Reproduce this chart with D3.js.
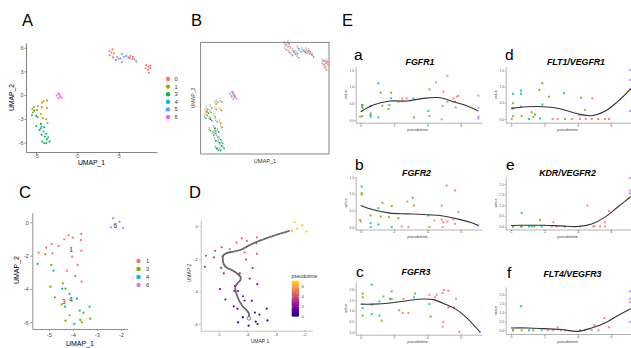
<!DOCTYPE html>
<html><head><meta charset="utf-8">
<script src="https://cdn.jsdelivr.net/npm/d3@7"></script>
<style>body{margin:0;background:#fff}svg{display:block;font-family:"Liberation Sans",Arial,sans-serif}</style>
</head><body><svg id="c" width="631" height="348"></svg>
<script>
// ---------- DATA ----------
// Panel A / B: UMAP of all clusters
const clustersA = ["0","1","3","4","5","6"];
const colorsA = ["#F8766D","#B79F00","#00BA38","#00BFC4","#619CFF","#F564E3"];
const umapA_0 = [[3.84,5.62],[4.24,5.79],[4.4,5.28],[3.9,5.07],[4.8,4.86],[4.3,4.78],[5.36,4.19],[6.16,4.78],[6.64,4.61],[6.88,4.53],[6.7,4.86],[6.4,4.95],[4.1,5.4],[8.3,3.8],[8.56,3.6],[8.8,3.4],[8.5,3.2],[8.24,3.4],[8.6,2.84],[8.8,3.7]];
const umapA_1 = [[-4.28,-0.95],[-4.08,-0.74],[-3.68,-0.69],[-4.8,-1.37],[-5.28,-1.54],[-5.44,-1.79],[-4.88,-1.87],[-4.28,-1.54],[-3.68,-1.66],[-5.36,-2.2],[-4.16,-2.93],[-3.76,-3.05],[-3.6,-3.56],[-4.4,-2.38]];
const umapA_3 = [[-5.2,-1.96],[-4.96,-2.63],[-4.96,-3.9],[-4.56,-4.4],[-4.32,-5.03],[-3.92,-5.24],[-4.24,-5.88],[-3.76,-6.1],[-3.36,-5.88],[-3.68,-5.6],[-4.4,-3.64],[-4.0,-4.06]];
const umapA_4 = [[-5.48,-2.55],[-4.8,-2.8],[-4.32,-3.98],[-4.08,-4.6],[-3.76,-4.9],[-3.52,-5.33],[-4.0,-6.1],[-4.4,-4.2]];
const umapA_5 = [[5.36,5.2],[5.6,4.86],[5.9,4.95],[4.64,4.44],[4.96,4.6],[6.3,4.7],[7.1,4.27],[5.2,4.65]];
const umapA_6 = [[-2.28,0.23],[-2.5,-0.06],[-2.08,-0.19],[-1.92,-0.36],[-2.3,-0.4],[-2.16,0.06]];
const umapA = [umapA_0, umapA_1, umapA_3, umapA_4, umapA_5, umapA_6];
const ticksA_x = [-5,0,5], ticksA_y = [-6,-3,0,3,6];

// Panel C / D: sub-clustering (x, y, pseudotime)
const clustersC = ["1","3","4","6"];
const colorsC = ["#F8766D","#7CAE00","#00BFC4","#C77CFF"];
const umapC_1 = [[-4.18,-0.76,4.8],[-4.0,-0.92,4.7],[-4.36,-1.02,4.6],[-3.65,-0.7,5.0],[-3.67,-1.06,4.8],[-4.6,-1.42,4.3],[-4.88,-1.3,4.2],[-5.11,-1.52,4.0],[-5.43,-1.82,3.8],[-4.85,-1.86,3.9],[-4.08,-1.62,4.4],[-3.65,-1.7,4.5],[-4.03,-2.06,4.2],[-3.8,-2.56,3.0],[-4.25,-2.9,2.9],[-3.9,-3.22,2.7],[-3.64,-3.56,2.6],[-4.14,-5.58,0.6]];
const umapC_3 = [[-5.15,-1.92,3.7],[-4.9,-2.56,3.2],[-4.94,-3.86,2.0],[-4.42,-3.66,2.2],[-4.31,-3.98,2.0],[-4.75,-4.5,1.6],[-4.46,-4.92,1.4],[-3.56,-5.42,0.8],[-3.69,-5.86,0.5],[-3.63,-6.0,0.4],[-3.28,-5.78,0.5],[-4.31,-5.9,0.4]];
const umapC_4 = [[-5.47,-2.5,3.4],[-4.81,-2.9,3.0],[-4.44,-3.98,2.0],[-4.14,-4.3,1.8],[-4.08,-4.56,1.6],[-3.83,-4.58,1.5],[-4.33,-5.06,1.2],[-3.31,-5.06,1.0],[-3.72,-5.3,0.9],[-3.94,-6.1,0.2]];
const umapC_6 = [[-2.33,0.24,7.0],[-2.06,0.04,6.8],[-2.42,-0.3,6.6],[-2.24,-0.16,6.7],[-1.92,-0.34,6.9]];
const umapC = [umapC_1, umapC_3, umapC_4, umapC_6];
const labelsC = [["6",-2.24,-0.16],["1",-4.07,-1.62],["3",-4.38,-4.72],["4",-4.08,-4.62]];
const ticksC_x = [-5,-4,-3,-2], ticksC_y = [0,-2,-4,-6];
const trajectory = [[-3.93,-5.65],[-3.93,-5.35],[-4.02,-5.14],[-4.14,-4.94],[-4.22,-4.73],[-4.28,-4.53],[-4.35,-4.22],[-4.40,-3.92],[-4.40,-3.71],[-4.33,-3.51],[-4.23,-3.31],[-4.22,-3.14],[-4.31,-2.94],[-4.49,-2.73],[-4.72,-2.53],[-4.81,-2.33],[-4.84,-2.08],[-4.84,-1.84],[-4.72,-1.67],[-4.49,-1.57],[-4.23,-1.47],[-3.91,-1.18],[-3.56,-0.90],[-3.09,-0.61],[-2.51,-0.29]];
const pseudoTicks = [0,2,4,6];

// Panel E: expression vs pseudotime  [pseudotime, value, cluster]
const FGFR1_pts = [[1.06,1.10,"4"],[1.82,0.65,"4"],[3.16,0.65,"4"],[0.6,0.42,"4"],[1.72,0.45,"4"],[0.08,0.40,"4"],[0.6,0.15,"4"],[0.6,0.10,"4"],[1.06,0.08,"4"],[4.06,0.27,"4"],[0.08,0.45,"4"],
 [1.2,0.82,"3"],[1.82,0.82,"3"],[0.12,0.45,"3"],[0.12,0.35,"3"],[1.3,0.43,"3"],[1.66,0.33,"3"],[0.6,0.2,"3"],[3.2,0.08,"3"],[4.12,0.92,"3"],[0.08,0.12,"3"],[2.26,0.55,"3"],
 [5.2,1.33,"1"],[4.52,1.13,"1"],[4.96,0.85,"1"],[5.56,0.65,"1"],[5.76,0.7,"1"],[5.2,0.55,"1"],[4.92,0.42,"1"],[5.66,0.55,"1"],[5.7,0.38,"1"],[4.12,0.12,"1"],[4.86,0.02,"1"],[2.5,0.65,"1"],[2.76,0.65,"1"],[2.5,0.57,"1"],[-0.04,0.1,"1"],[5.86,0.73,"1"],
 [7.06,0.73,"6"],[7.06,0.37,"6"],[7.06,0.10,"6"],[7.06,0.05,"6"]];
const FGFR1_fit = [[0,0.25],[0.76,0.45],[1.76,0.57],[2.76,0.57],[3.76,0.65],[4.76,0.67],[5.56,0.55],[6.36,0.43],[7.06,0.27]];
const FGFR2_pts = [[0.06,1.22,"4"],[1.06,0.57,"4"],[3.12,0.88,"4"],[0.6,0.12,"4"],[0.6,0,"4"],[1.06,0.08,"4"],[1.86,0,"4"],[4.06,0.35,"4"],
 [0.06,1.02,"3"],[0.06,0.98,"3"],[1.3,0.73,"3"],[1.86,0.63,"3"],[3.2,0.65,"3"],[0.6,0.35,"3"],[1.2,0.32,"3"],[1.7,0.30,"3"],[2.26,0.27,"3"],[4.12,0,"3"],[0,0.17,"3"],
 [5.16,1.25,"1"],[5.66,1.1,"1"],[2.8,0.77,"1"],[4.86,0.65,"1"],[5.86,0.45,"1"],[4.42,0.2,"1"],[4.86,0.23,"1"],[4.96,0.15,"1"],[5.2,0.17,"1"],[5.56,0.23,"1"],[5.66,0.1,"1"],[-0.04,0.22,"1"],[2.46,0.02,"1"],[2.86,0,"1"],[4.92,0,"1"],
 [7.06,0.05,"6"]];
const FGFR2_fit = [[0,0.65],[0.76,0.52],[1.76,0.42],[2.76,0.40],[3.76,0.38],[4.76,0.35],[5.76,0.25],[6.56,0.15],[7.06,0.05]];
const FGFR3_pts = [[0.66,2.22,"4"],[1.86,1.91,"4"],[0.12,1.13,"4"],[0.66,0.84,"4"],[1.12,1.44,"4"],[1.12,0.77,"4"],[3.2,1.63,"4"],[4.12,1.31,"4"],[1.76,1.56,"4"],
 [0.12,1.81,"3"],[0.12,1.63,"3"],[0.12,0.77,"3"],[0.66,1.28,"3"],[1.36,1.67,"3"],[1.86,1.55,"3"],[2.32,1.02,"3"],[3.26,1.81,"3"],[4.2,0.73,"3"],[1.26,0.53,"3"],
 [2.56,1.55,"1"],[2.52,0.89,"1"],[2.86,0.89,"1"],[4.12,1.75,"1"],[4.56,1.75,"1"],[4.46,1.63,"1"],[5.0,1.97,"1"],[5.26,1.94,"1"],[4.92,1.83,"1"],[5.72,1.56,"1"],[5.26,1.16,"1"],[5.6,1.16,"1"],[4.96,0.47,"1"],[4.92,0.25,"1"],[5.92,0,"1"],
 [7.16,0,"6"]];
const FGFR3_fit = [[0,1.31],[0.76,1.31],[1.76,1.36],[2.76,1.47],[3.76,1.55],[4.36,1.52],[5.16,1.28],[5.76,1.05],[6.36,0.66],[7.16,0.0]];
const FLT1_pts = [[0.12,0.78,"4"],[0.6,0.88,"4"],[0.6,0.78,"4"],[0.6,0.38,"4"],[1.08,0,"4"],[1.88,0.45,"4"],[3.18,0.80,"4"],[4.1,0.12,"4"],[1.74,0.02,"4"],
 [0.12,0.49,"3"],[0.12,0.33,"3"],[0.12,0.09,"3"],[0.64,0.09,"3"],[1.24,0.21,"3"],[1.34,0.06,"3"],[1.7,0.9,"3"],[1.88,1.11,"3"],[2.28,0.69,"3"],[3.24,0,"3"],[4.2,0.66,"3"],[1.44,0.14,"3"],
 [0.04,0,"1"],[2.5,0,"1"],[2.8,0,"1"],[4.44,0.28,"1"],[4.88,0.64,"1"],[3.64,0,"1"],[4.14,0,"1"],[4.48,0,"1"],[4.84,0,"1"],[5.24,0,"1"],[5.64,0,"1"],[5.88,0,"1"],
 [7.14,1.52,"6"],[7.14,1.21,"6"],[7.14,0.93,"6"],[7.14,0.25,"6"]];
const FLT1_fit = [[0,0.33],[1,0.38],[2,0.38],[3,0.31],[4,0.16],[4.8,0.10],[5.6,0.23],[6.4,0.54],[7.18,0.93]];
const KDR_pts = [[0.64,0.63,"4"],[0.12,0,"4"],[0.6,0,"4"],[1.08,0,"4"],[1.24,0,"4"],[1.84,0,"4"],
 [1.74,0.31,"3"],[0.12,0,"3"],[0.64,0,"3"],[1.4,0,"3"],[3.24,0,"3"],[4.14,0,"3"],
 [4.58,0.98,"1"],[5.88,0.72,"1"],[2.54,0.2,"1"],[5.64,0.2,"1"],[5.0,0.03,"1"],[5.34,0,"1"],[5.64,0,"1"],[4.94,0,"1"],[2.44,0,"1"],[2.74,0,"1"],[3.2,0,"1"],
 [7.14,2.28,"6"],[7.14,1.69,"6"],[7.14,1.56,"6"]];
const KDR_fit = [[0,0.05],[1,0.06],[2,0.06],[3,0.03],[4,0.0],[4.84,0.12],[5.64,0.44],[6.44,0.94],[7.18,1.4]];
const FLT4_pts = [[0.6,1.35,"4"],[0.12,0,"4"],[1.08,0,"4"],[1.84,0,"4"],
 [0.12,0,"3"],[0.64,0,"3"],[1.34,0,"3"],[3.24,0,"3"],[4.14,0,"3"],
 [2.8,0.17,"1"],[5.0,0.28,"1"],[5.6,0.69,"1"],[5.88,0.17,"1"],[4.44,0,"1"],[4.84,0,"1"],[5.24,0,"1"],[2.54,0,"1"],[2.2,0,"1"],[3.0,0,"1"],
 [7.14,2.19,"6"],[7.14,1.78,"6"],[7.14,1.59,"6"],[7.14,0.47,"6"]];
const FLT4_fit = [[0,0.13],[1,0.13],[2,0.09],[3,0.04],[4,-0.06],[4.84,0.13],[5.64,0.41],[6.44,0.84],[7.18,1.21]];
const pseudoAxisTicks = [0,2,4,6];
const valueTicks3 = [0,0.5,1,1.5], valueTicks4 = [0,0.5,1,1.5,2];

// ---------- HELPERS ----------
const svg = d3.select("#c");
const FONT = "'Liberation Sans',Arial,sans-serif";

function axes(g, x, y, o) {
  const ax = g.append("g").attr("transform", `translate(0,${y.range()[0]})`)
    .call(d3.axisBottom(x).tickValues(o.xt).tickSize(o.ts).tickPadding(o.tp).tickSizeOuter(0).tickFormat(o.xf || (d => String(d))));
  const ay = g.append("g").attr("transform", `translate(${x.range()[0]},0)`)
    .call(d3.axisLeft(y).tickValues(o.yt).tickSize(o.ts).tickPadding(o.tp).tickSizeOuter(0).tickFormat(o.yf || (d => String(d))));
  [ax, ay].forEach(a => {
    a.attr("font-size", o.fs).attr("font-family", FONT);
    a.select(".domain").attr("stroke", o.lc).attr("stroke-width", o.lw);
    a.selectAll(".tick line").attr("stroke", o.lc).attr("stroke-width", o.lw);
    a.selectAll(".tick text").attr("fill", o.tc);
  });
}
function txt(x, y, s, o = {}) {
  const t = svg.append("text").attr("x", x).attr("y", y).text(s)
    .attr("font-size", o.fs || 10).attr("fill", o.fill || "#000")
    .attr("text-anchor", o.anchor || "start").attr("font-family", FONT);
  if (o.weight) t.attr("font-weight", o.weight);
  if (o.style) t.attr("font-style", o.style);
  if (o.rot) t.attr("transform", `rotate(${o.rot},${x},${y})`);
  if (o.db) t.attr("dominant-baseline", o.db);
  return t;
}

// ---------- PANEL A ----------
txt(22, 26, "A", {fs: 16.5});
{
  const x = d3.scaleLinear([-6.2, 9.6], [26, 157]);
  const y = d3.scaleLinear([-7.2, 6.6], [152, 43]);
  const g = svg.append("g");
  axes(g, x, y, {xt: ticksA_x, yt: ticksA_y, ts: 1.6, tp: 0.9, fs: 5.5, lc: "#333", lw: 0.6, tc: "#4d4d4d"});
  umapA.forEach((pts, i) => {
    g.selectAll(null).data(pts).join("circle")
      .attr("cx", d => x(d[0])).attr("cy", d => y(d[1])).attr("r", 1.05)
      .attr("fill", colorsA[i]);
  });
  txt(91.5, 165.3, "UMAP_1", {fs: 6.8, anchor: "middle"});
  txt(14, 97.5, "UMAP_2", {fs: 6.8, anchor: "middle", rot: -90});
  clustersA.forEach((c, i) => {
    const yy = 79 + i * 7.6;
    svg.append("circle").attr("cx", 168).attr("cy", yy).attr("r", 2.2).attr("fill", colorsA[i]);
    txt(174.5, yy, c, {fs: 5.8, fill: "#333", db: "central"});
  });
}

// ---------- PANEL B ----------
txt(191, 26, "B", {fs: 16.5});
{
  const x = d3.scaleLinear([-6.1, 8.9], [200.7, 329]);
  const y = d3.scaleLinear([-6.5, 5.9], [154, 42.3]);
  const g = svg.append("g");
  g.append("rect").attr("x", 200.7).attr("y", 42.3).attr("width", 128.3).attr("height", 111.7)
    .attr("fill", "none").attr("stroke", "#555").attr("stroke-width", 0.7);
  umapA.forEach((pts, i) => {
    g.selectAll(null).data(pts).join("text")
      .attr("x", d => x(d[0]) - 2.2).attr("y", d => y(d[1]) - 0.6)
      .attr("font-size", 2.6).attr("fill", "#333").attr("font-family", FONT)
      .text(clustersA[i]);
    g.selectAll(null).data(pts).join("circle")
      .attr("cx", d => x(d[0])).attr("cy", d => y(d[1])).attr("r", 0.9)
      .attr("fill", colorsA[i]);
  });
  txt(265, 162.5, "UMAP_1", {fs: 5.6, anchor: "middle", fill: "#333"});
  txt(195, 98, "UMAP_2", {fs: 5.2, anchor: "middle", rot: -90, fill: "#333"});
}

// ---------- PANEL C ----------
txt(19, 197.5, "C", {fs: 16.5});
{
  const x = d3.scaleLinear([-5.69, -1.72], [32.3, 127.7]);
  const y = d3.scaleLinear([-6.4, 0.58], [329, 212.7]);
  const g = svg.append("g");
  axes(g, x, y, {xt: ticksC_x, yt: ticksC_y, ts: 2, tp: 1.5, fs: 5.8, lc: "#888", lw: 0.9, tc: "#4d4d4d"});
  umapC.forEach((pts, i) => {
    g.selectAll(null).data(pts).join("circle")
      .attr("cx", d => x(d[0])).attr("cy", d => y(d[1])).attr("r", 1.15)
      .attr("fill", colorsC[i]);
  });
  labelsC.forEach(l => {
    g.append("text").attr("x", x(l[1])).attr("y", y(l[2])).text(l[0])
      .attr("font-size", 6.5).attr("font-family", FONT).attr("text-anchor", "middle")
      .attr("dominant-baseline", "central").attr("fill", "#333")
      .attr("stroke", "#fff").attr("stroke-width", 0.6).attr("paint-order", "stroke");
  });
  txt(80, 346, "UMAP_1", {fs: 7, anchor: "middle"});
  txt(19, 270, "UMAP_2", {fs: 7, anchor: "middle", rot: -90});
  clustersC.forEach((c, i) => {
    const yy = 261 + i * 8;
    svg.append("circle").attr("cx", 138.5).attr("cy", yy).attr("r", 2.2).attr("fill", colorsC[i]);
    txt(146, yy, c, {fs: 5.8, fill: "#333", db: "central"});
  });
}

// ---------- PANEL D ----------
txt(189, 198, "D", {fs: 16.5});
{
  const x = d3.scaleLinear([-5.615, -1.70], [200.7, 312.7]);
  const y = d3.scaleLinear([-6.41, 0.37], [330.7, 220]);
  const pMax = 7.2;
  const col = t => d3.interpolatePlasma(Math.min(1, t / pMax) * 0.93);
  const g = svg.append("g");
  axes(g, x, y, {xt: ticksC_x, yt: ticksC_y, ts: 1.5, tp: 1.2, fs: 4.3, lc: "#999", lw: 0.6, tc: "#555"});
  umapC.forEach(pts => {
    g.selectAll(null).data(pts).join("circle")
      .attr("cx", d => x(d[0])).attr("cy", d => y(d[1])).attr("r", 1.1)
      .attr("fill", d => col(d[2]));
  });
  const line = d3.line().x(d => x(d[0])).y(d => y(d[1])).curve(d3.curveCatmullRom.alpha(0.5));
  g.append("path").attr("d", line(trajectory)).attr("fill", "none").attr("stroke", "#444").attr("stroke-width", 1.6);
  g.append("path").attr("d", line(trajectory)).attr("fill", "none").attr("stroke", "#9a9a9a").attr("stroke-width", 0.6);
  g.append("circle").attr("cx", x(trajectory[0][0])).attr("cy", y(trajectory[0][1])).attr("r", 1.8)
    .attr("fill", "#fff").attr("stroke", "#333").attr("stroke-width", 0.6);
  txt(260, 343, "UMAP 1", {fs: 5, anchor: "middle", fill: "#333"});
  txt(191, 273, "UMAP 2", {fs: 5, anchor: "middle", rot: -90, fill: "#333"});
  // colour bar
  const defs = svg.append("defs");
  const grad = defs.append("linearGradient").attr("id", "plasma").attr("x1", 0).attr("x2", 0).attr("y1", 1).attr("y2", 0);
  d3.range(0, 1.001, 0.1).forEach(t => grad.append("stop").attr("offset", t).attr("stop-color", col(t * pMax)));
  const cb = d3.scaleLinear([0, pMax], [316.7, 280.7]);
  svg.append("rect").attr("x", 291.7).attr("y", cb(pMax)).attr("width", 7.3).attr("height", cb(0) - cb(pMax)).attr("fill", "url(#plasma)");
  pseudoTicks.forEach(t => {
    svg.append("line").attr("x1", 291.7).attr("x2", 293).attr("y1", cb(t)).attr("y2", cb(t)).attr("stroke", "#fff").attr("stroke-width", 0.4);
    svg.append("line").attr("x1", 297.7).attr("x2", 299).attr("y1", cb(t)).attr("y2", cb(t)).attr("stroke", "#fff").attr("stroke-width", 0.4);
    txt(301.5, cb(t), String(t), {fs: 4.3, fill: "#444", db: "central"});
  });
  txt(291.5, 278, "pseudotime", {fs: 5, fill: "#333"});
}

// ---------- PANEL E ----------
txt(342, 26, "E", {fs: 16.5});
const colorMapE = {"1": "#F8766D", "3": "#7CAE00", "4": "#00BFC4", "6": "#C77CFF"};
function exprPanel(c) {
  const x = d3.scaleLinear(c.xd, c.xr);
  const y = d3.scaleLinear(c.yd, c.yr);
  const g = svg.append("g");
  axes(g, x, y, {xt: pseudoAxisTicks, yt: c.yt, ts: 1, tp: 0.5, fs: 3.3, lc: "#666", lw: 0.5, tc: "#555",
    yf: d3.format(".1f")});
  g.selectAll(null).data(c.pts).join("rect")
    .attr("x", d => x(d[0]) - 1).attr("y", d => y(d[1]) - 1).attr("width", 2).attr("height", 2)
    .attr("fill", d => colorMapE[d[2]]).attr("opacity", 0.85);
  const line = d3.line().x(d => x(d[0])).y(d => y(d[1])).curve(d3.curveCatmullRom.alpha(0.5));
  g.append("path").attr("d", line(c.fit)).attr("fill", "none").attr("stroke", "#333").attr("stroke-width", 1.1);
  txt(c.xr[0] + 62, c.yr[0] + 8.6, "pseudotime", {fs: 4, anchor: "middle", fill: "#444"});
  txt(c.xr[0] - 8.5, (c.yr[0] + c.yr[1]) / 2, "value", {fs: 3.8, anchor: "middle", rot: -90, fill: "#444"});
  txt(c.lx, c.ly, c.letter, {fs: 15.5});
  txt(c.tx, c.ty, c.title, {fs: 8.8, anchor: "middle", weight: "bold", style: "italic"});
}
exprPanel({letter: "a", lx: 354, ly: 60, title: "FGFR1", tx: 420, ty: 64.5,
  xd: [-0.3, 7.26], xr: [355.7, 481.7], yd: [-0.08, 1.6], yr: [122.7, 66.7], yt: valueTicks3, pts: FGFR1_pts, fit: FGFR1_fit});
exprPanel({letter: "d", lx: 505, ly: 60, title: "FLT1/VEGFR1", tx: 576, ty: 64.5,
  xd: [-0.318, 7.24], xr: [505.7, 631.7], yd: [-0.115, 1.62], yr: [122.7, 66.7], yt: valueTicks3, pts: FLT1_pts, fit: FLT1_fit});
exprPanel({letter: "b", lx: 355, ly: 170, title: "FGFR2", tx: 416.5, ty: 176,
  xd: [-0.3, 7.26], xr: [355.7, 481.7], yd: [-0.07, 1.52], yr: [229.5, 176.5], yt: valueTicks3, pts: FGFR2_pts, fit: FGFR2_fit});
exprPanel({letter: "e", lx: 506, ly: 169.5, title: "KDR/VEGFR2", tx: 567.5, ty: 176,
  xd: [-0.318, 7.24], xr: [505.7, 631.7], yd: [-0.14, 2.35], yr: [229.5, 176.5], yt: valueTicks4, pts: KDR_pts, fit: KDR_fit});
exprPanel({letter: "c", lx: 356, ly: 276.5, title: "FGFR3", tx: 416, ty: 275,
  xd: [-0.3, 7.26], xr: [355.7, 481.7], yd: [-0.127, 2.35], yr: [334.7, 282], yt: valueTicks4, pts: FGFR3_pts, fit: FGFR3_fit});
exprPanel({letter: "f", lx: 507, ly: 277.5, title: "FLT4/VEGFR3", tx: 572.5, ty: 276.5,
  xd: [-0.318, 7.24], xr: [505.7, 631.7], yd: [-0.21, 2.43], yr: [334, 287], yt: valueTicks4, pts: FLT4_pts, fit: FLT4_fit});
</script></body></html>
